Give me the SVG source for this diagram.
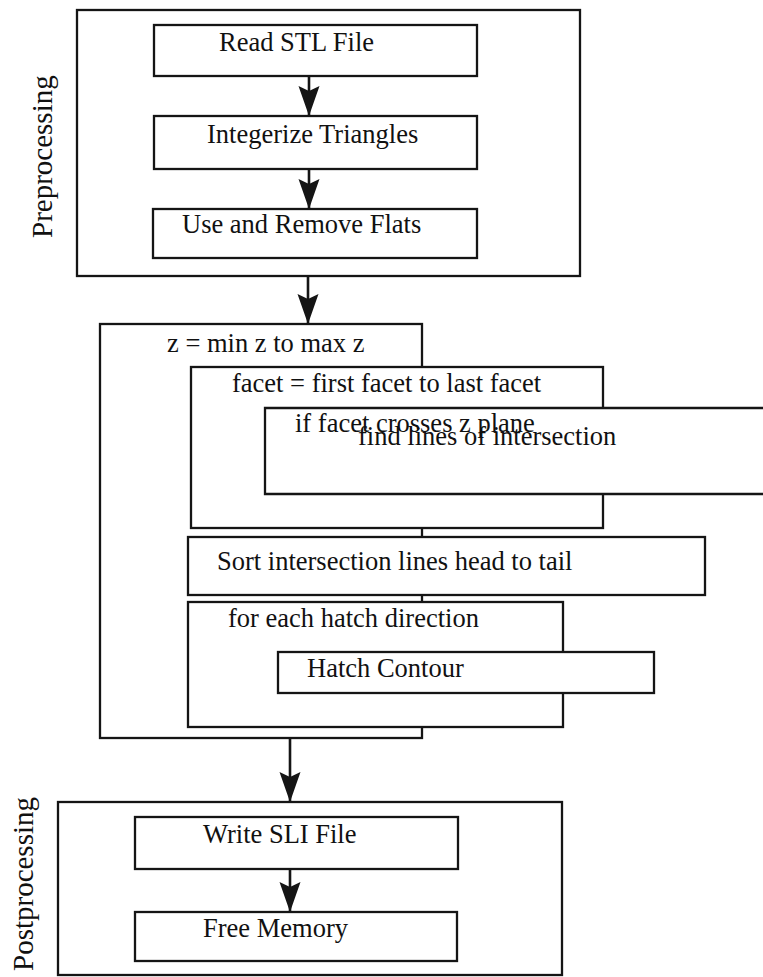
<svg xmlns="http://www.w3.org/2000/svg" width="763" height="977" viewBox="0 0 763 977">
<style>
.box{fill:#fff;stroke:#151515;stroke-width:2.3}
.t{font-family:"Liberation Serif","Times New Roman",serif;font-size:26.5px;fill:#111}
.side{font-family:"Liberation Serif","Times New Roman",serif;font-size:29px;fill:#111}
.conn{stroke:#151515;stroke-width:2.6;fill:none}
</style>
<defs>
<marker id="ah" markerUnits="userSpaceOnUse" markerWidth="34" markerHeight="26" viewBox="-32 -13 34 26" refX="0" refY="0" orient="auto">
<path d="M0,0 L-30,-10.5 L-25,0 L-30,10.5 Z" fill="#151515"/>
</marker>
</defs>
<rect x="0" y="0" width="763" height="977" fill="#fff"/>

<g id="preprocessing">
<rect class="box" x="77" y="10" width="503" height="266"/>
<text class="side" transform="translate(52,238) rotate(-90)">Preprocessing</text>
</g>
<g id="read-stl">
<rect class="box" x="154" y="25" width="323" height="51"/>
<text class="t" x="219" y="51">Read STL File</text>
</g>
<g id="integerize">
<rect class="box" x="154" y="116" width="323" height="53"/>
<text class="t" x="207" y="143">Integerize Triangles</text>
</g>
<g id="use-remove-flats">
<rect class="box" x="153" y="209" width="324" height="49"/>
<text class="t" x="182" y="233">Use and Remove Flats</text>
</g>

<g id="z-loop">
<rect class="box" x="100" y="324" width="322" height="414"/>
<text class="t" x="167" y="352">z = min z to max z</text>
</g>
<g id="facet-loop">
<rect class="box" x="191" y="367" width="412" height="161"/>
<text class="t" x="232" y="392">facet = first facet to last facet</text>
</g>
<g id="if-facet">
<path class="box" d="M775,408 L265,408 L265,494 L775,494"/>
<text class="t" x="295" y="432">if facet crosses z plane</text>
<text class="t" x="358" y="445">find lines of intersection</text>
</g>
<g id="sort">
<rect class="box" x="188" y="537" width="517" height="58"/>
<text class="t" x="217" y="570">Sort intersection lines head to tail</text>
</g>
<g id="hatch-loop">
<rect class="box" x="188" y="602" width="375" height="125"/>
<text class="t" x="228" y="627">for each hatch direction</text>
</g>
<g id="hatch-contour">
<rect class="box" x="278" y="652" width="376" height="41"/>
<text class="t" x="307" y="677">Hatch Contour</text>
</g>

<g id="postprocessing">
<rect class="box" x="58" y="802" width="504" height="173"/>
<text class="side" transform="translate(33,971) rotate(-90)">Postprocessing</text>
</g>
<g id="write-sli">
<rect class="box" x="135" y="817" width="323" height="52"/>
<text class="t" x="203" y="843">Write SLI File</text>
</g>
<g id="free-memory">
<rect class="box" x="135" y="912" width="322" height="49"/>
<text class="t" x="203" y="937">Free Memory</text>
</g>

<g id="connectors">
<line class="conn" x1="309" y1="76" x2="309" y2="116" marker-end="url(#ah)"/>
<line class="conn" x1="309" y1="169" x2="309" y2="209" marker-end="url(#ah)"/>
<line class="conn" x1="308" y1="276" x2="308" y2="324" marker-end="url(#ah)"/>
<line class="conn" x1="290" y1="738" x2="290" y2="802" marker-end="url(#ah)"/>
<line class="conn" x1="290" y1="869" x2="290" y2="912" marker-end="url(#ah)"/>
</g>
</svg>
